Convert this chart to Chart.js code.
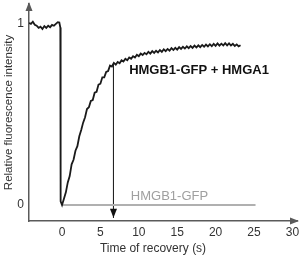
<!DOCTYPE html>
<html>
<head>
<meta charset="utf-8">
<script src="https://cdn.jsdelivr.net/npm/chart.js@4/dist/chart.umd.min.js"></script>
<style>
  body { margin: 0; background: #fff; }
  #wrap { width: 300px; height: 260px; }
</style>
</head>
<body>
<div id="wrap"><canvas id="frap-chart" width="300" height="260"></canvas></div>
<script>
// time of recovery (s) and relative intensity, HMGB1-GFP + HMGA1
const hmga1Time = [
  -4.3, -4.05, -3.8, -3.55, -3.3, -3.05, -2.8, -2.55, -2.3, -2.05, -1.8, -1.55, -1.3, -1.05, -0.8, -0.55, -0.35, -0.22, -0.18,
  0.0, 0.25, 0.5, 0.75, 1.0, 1.25, 1.5, 1.75, 2.0, 2.25, 2.5, 2.75, 3.0, 3.25, 3.5, 3.75, 4.0, 4.25, 4.5, 4.75,
  5.0, 5.25, 5.5, 5.75, 6.0, 6.25, 6.5, 6.75, 7.0, 7.25, 7.5, 7.75, 8.0, 8.25, 8.5, 8.75, 9.0, 9.25, 9.5, 9.75,
  10.0, 10.25, 10.5, 10.75, 11.0, 11.25, 11.5, 11.75, 12.0, 12.25, 12.5, 12.75, 13.0, 13.25, 13.5, 13.75,
  14.0, 14.25, 14.5, 14.75, 15.0, 15.25, 15.5, 15.75, 16.0, 16.25, 16.5, 16.75, 17.0, 17.25, 17.5, 17.75,
  18.0, 18.25, 18.5, 18.75, 19.0, 19.25, 19.5, 19.75, 20.0, 20.25, 20.5, 20.75, 21.0, 21.25, 21.5, 21.75,
  22.0, 22.25, 22.5, 22.75, 23.0, 23.25
];
const hmga1Values = [
  1.005, 1.0, 1.012, 0.995, 0.99, 0.978, 0.985, 0.972, 0.988, 0.978, 0.99, 0.982, 0.995, 0.99, 1.0, 1.01, 1.008, 0.98, 0.02,
  0.0, 0.035, 0.07, 0.125, 0.16, 0.225, 0.25, 0.3, 0.325, 0.38, 0.415, 0.455, 0.485, 0.53, 0.54, 0.575, 0.58, 0.62, 0.625, 0.665,
  0.67, 0.705, 0.705, 0.735, 0.74, 0.77, 0.765, 0.785, 0.775, 0.79, 0.783, 0.8, 0.793, 0.808, 0.8, 0.815, 0.808, 0.822, 0.815, 0.83,
  0.822, 0.836, 0.828, 0.84, 0.832, 0.846, 0.836, 0.85, 0.84, 0.852, 0.843, 0.856, 0.846, 0.86, 0.85, 0.862,
  0.852, 0.866, 0.856, 0.868, 0.858, 0.872, 0.862, 0.874, 0.864, 0.876, 0.866, 0.878, 0.868, 0.88, 0.87, 0.882,
  0.872, 0.884, 0.874, 0.886, 0.876, 0.888, 0.877, 0.89, 0.879, 0.892, 0.88, 0.891, 0.881, 0.894, 0.882, 0.893,
  0.881, 0.89, 0.878, 0.887, 0.876, 0.882
];

// HMGB1-GFP alone stays at zero
const gfpTime = [0, 25.2];
const gfpValues = [0, 0];

// arrow marking the half-time
const arrowTime = [6.7, 6.7];
const arrowValues = [0.775, -0.07];

const xTicks = [0, 5, 10, 15, 20, 25, 30];
const yTicks = [0, 1];

const toPoints = (xs, ys) => xs.map((x, i) => ({ x: x, y: ys[i] }));

Chart.defaults.font.family = "'Liberation Sans', Arial, sans-serif";

const axisColor = '#5a5a5a';

const extras = {
  id: 'extras',
  afterDatasetsDraw(chart) {
    const { ctx, chartArea, scales } = chart;
    const x = scales.x, y = scales.y;
    ctx.save();

    // axis arrow heads
    ctx.fillStyle = axisColor;
    ctx.beginPath();
    ctx.moveTo(chartArea.left, chartArea.top - 2);
    ctx.lineTo(chartArea.left - 3.5, chartArea.top + 7);
    ctx.lineTo(chartArea.left + 3.5, chartArea.top + 7);
    ctx.closePath();
    ctx.fill();
    ctx.beginPath();
    ctx.moveTo(chartArea.right + 2, chartArea.bottom);
    ctx.lineTo(chartArea.right - 7, chartArea.bottom - 3.5);
    ctx.lineTo(chartArea.right - 7, chartArea.bottom + 3.5);
    ctx.closePath();
    ctx.fill();

    // half-time arrow head
    const ax = x.getPixelForValue(arrowTime[1]);
    const ay = y.getPixelForValue(arrowValues[1]);
    ctx.fillStyle = '#111';
    ctx.beginPath();
    ctx.moveTo(ax, ay);
    ctx.lineTo(ax - 3.5, ay - 9);
    ctx.lineTo(ax + 3.5, ay - 9);
    ctx.closePath();
    ctx.fill();

    // series labels
    ctx.textBaseline = 'middle';
    ctx.textAlign = 'left';
    ctx.font = "bold 13px 'Liberation Sans', Arial, sans-serif";
    ctx.fillStyle = '#111';
    ctx.fillText('HMGB1-GFP + HMGA1', x.getPixelForValue(8.74), y.getPixelForValue(0.743));
    ctx.font = "13px 'Liberation Sans', Arial, sans-serif";
    ctx.fillStyle = '#a0a0a0';
    ctx.fillText('HMGB1-GFP', x.getPixelForValue(8.96), y.getPixelForValue(0.047));

    // x axis title
    ctx.font = "12px 'Liberation Sans', Arial, sans-serif";
    ctx.fillStyle = '#333';
    ctx.textAlign = 'center';
    ctx.fillText('Time of recovery (s)', (chartArea.left + chartArea.right) / 2 - 10, 249);
    ctx.restore();
  }
};

const ctx = document.getElementById('frap-chart').getContext('2d');

const chart = new Chart(ctx, {
  type: 'line',
  data: {
    datasets: [
      {
        label: 'HMGB1-GFP + HMGA1',
        data: toPoints(hmga1Time, hmga1Values),
        borderColor: '#1a1a1a',
        borderWidth: 1.8,
        pointRadius: 0,
        tension: 0
      },
      {
        label: 'HMGB1-GFP',
        data: toPoints(gfpTime, gfpValues),
        borderColor: '#b0b0b0',
        borderWidth: 2,
        pointRadius: 0
      },
      {
        label: 'half-time',
        data: toPoints(arrowTime, arrowValues),
        borderColor: '#222',
        borderWidth: 1,
        pointRadius: 0
      }
    ]
  },
  options: {
    responsive: false,
    animation: false,
    devicePixelRatio: 1,
    layout: { padding: { top: 4, right: 3, left: 0, bottom: 0 } },
    plugins: {
      legend: { display: false },
      tooltip: { enabled: false }
    },
    scales: {
      x: {
        type: 'linear',
        min: -4.3,
        max: 30.6,
        afterBuildTicks: s => { s.ticks = xTicks.map(v => ({ value: v })); },
        afterFit: s => { s.height = 39; s.paddingLeft = 0; s.paddingRight = 0; },
        grid: { display: false, drawTicks: false },
        border: { color: axisColor, width: 1.5 },
        ticks: { padding: 4, color: '#333', font: { size: 12 } }
      },
      y: {
        type: 'linear',
        min: -0.088,
        max: 1.11,
        afterBuildTicks: s => { s.ticks = yTicks.map(v => ({ value: v })); },
        afterFit: s => { s.width = 29; s.paddingTop = 0; s.paddingBottom = 0; },
        grid: { display: false, drawTicks: false },
        border: { color: axisColor, width: 1.5 },
        ticks: { padding: 5, color: '#333', font: { size: 12 } },
        title: {
          display: true,
          text: 'Relative fluorescence intensity',
          color: '#333',
          font: { size: 11.5 },
          padding: { top: 2, bottom: 0 }
        }
      }
    }
  },
  plugins: [extras]
});
</script>
</body>
</html>
